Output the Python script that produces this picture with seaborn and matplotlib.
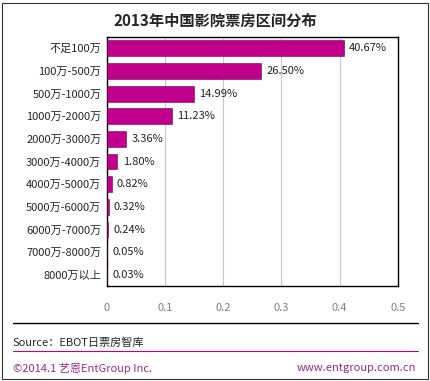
import matplotlib
matplotlib.use("Agg")
import matplotlib.pyplot as plt
import seaborn as sns
import pandas as pd
from matplotlib.lines import Line2D
from matplotlib.patches import Rectangle

# ── data ──────────────────────────────────────────────────────────────────────
categories = ["不足100万", "100万-500万", "500万-1000万", "1000万-2000万",
              "2000万-3000万", "3000万-4000万", "4000万-5000万", "5000万-6000万",
              "6000万-7000万", "7000万-8000万", "8000万以上"]
shares = [0.4067, 0.2650, 0.1499, 0.1123, 0.0336, 0.0180, 0.0082, 0.0032,
          0.0024, 0.0005, 0.0003]
xticks = [0, 0.1, 0.2, 0.3, 0.4, 0.5]

df = pd.DataFrame({"cat": categories, "share": shares})

sns.set_style("white")
plt.rcParams["font.family"] = ["Noto Sans CJK SC", "DejaVu Sans"]

BAR = "#C0008C"

fig = plt.figure(figsize=(4.31, 3.81), dpi=100)
ax = fig.add_axes([0.248, 0.249, 0.675, 0.654])

sns.barplot(data=df, x="share", y="cat", color=BAR, width=0.7,
            saturation=1, ax=ax, zorder=3, edgecolor="#6A0050", linewidth=0.4)

ax.set_xlim(0, 0.5)
ax.set_xticks(xticks)
ax.set_xticklabels([f"{t:g}" for t in xticks], color="#808080", fontsize=8)
ax.tick_params(axis="x", length=0, pad=12)
ax.tick_params(axis="y", length=0, pad=4, labelsize=8)
ax.set_xlabel("")
ax.set_ylabel("")
ax.xaxis.grid(True, color="#C8C8C8", lw=0.8, zorder=0)
ax.set_axisbelow(True)
for s in ax.spines.values():
    s.set_visible(True)
    s.set_color("black")
    s.set_linewidth(1)

for i, v in enumerate(shares):
    ax.text(v + 0.009, i, f"{v*100:.2f}%", va="center", ha="left", fontsize=8, color="#222222")

fig.text(0.5, 0.945, "2013年中国影院票房区间分布", ha="center", va="center",
         fontsize=11, fontweight="bold")

# footer
fig.add_artist(Line2D([13/431, 418/431], [0.152, 0.152], color="black", lw=1))
fig.add_artist(Line2D([13/431, 418/431], [0.079, 0.079], color=BAR, lw=0.8))
fig.text(13/431, 0.10, "Source：EBOT日票房智库", ha="left", va="center", fontsize=8)
fig.text(13/431, 0.034, "©2014.1 艺恩EntGroup Inc.", ha="left", va="center",
         fontsize=8, color="#962D88")
fig.text(416/431, 0.034, "www.entgroup.com.cn", ha="right", va="center",
         fontsize=8, color="#962D88")
fig.add_artist(Rectangle((2/431, 2/381), 426/431, 376/381, transform=fig.transFigure,
                         fill=False, edgecolor="#333333", lw=0.8))

fig.savefig("out.png", dpi=100)
